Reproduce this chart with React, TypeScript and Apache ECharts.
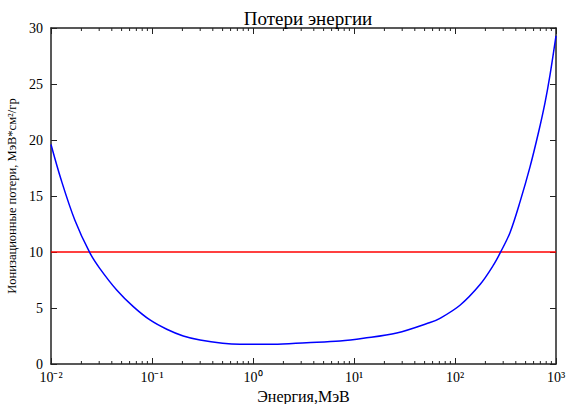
import React, { useEffect, useRef } from "react";
import * as echarts from "echarts";

const energy = [0.01, 0.01265, 0.0172, 0.0242, 0.0305, 0.0447, 0.0653, 0.0955, 0.14, 0.204, 0.299, 0.5, 0.743, 1.59, 3.39, 7.27, 12.4, 26.5, 56.6, 71, 112, 177, 239, 285, 351, 441, 553, 668, 777, 872, 1000];
const loss = [19.6, 16.4, 12.86, 9.94, 8.52, 6.61, 5.12, 3.93, 3.1, 2.5, 2.14, 1.85, 1.76, 1.76, 1.9, 2.05, 2.29, 2.76, 3.7, 4.08, 5.25, 7.1, 8.8, 10.05, 11.75, 14.5, 17.6, 20.6, 23.3, 25.8, 29.3];
const thresholdX = [0.01, 1000];
const thresholdY = [10, 10];
const decades = [-2, -1, 0, 1, 2];
const minorMultipliers = [2, 3, 4, 5, 6, 7, 8, 9];

const FONT = "Liberation Serif";
const sup: Record<string, string> = { "-": "\u207B", "0": "\u2070", "1": "\u00B9", "2": "\u00B2", "3": "\u00B3", "4": "\u2074", "5": "\u2075", "6": "\u2076", "7": "\u2077", "8": "\u2078", "9": "\u2079" };
const toSup = (n: number) => String(n).split("").map((c) => sup[c] || c).join("");

export default function App() {
  const ref = useRef<HTMLDivElement>(null);
  useEffect(() => {
    if (!ref.current) return;
    const chart = echarts.init(ref.current, null, { renderer: "svg" });
    const minorTicks: number[][] = [];
    decades.forEach((d) => minorMultipliers.forEach((m) => minorTicks.push([m * Math.pow(10, d)])));
    const axisLine = { show: true, onZero: false, lineStyle: { color: "#222", width: 1.5 } };
    const tickStyle = { color: "#222", width: 1 };
    chart.setOption({
      animation: false,
      backgroundColor: "#fff",
      title: {
        text: "Потери энергии",
        left: 303,
        textAlign: "center",
        top: 4,
        textStyle: { fontFamily: FONT, fontSize: 19, fontWeight: "normal", color: "#000" },
      },
      grid: { left: 51, right: 11, top: 28, bottom: 40, outerBoundsMode: "none", containLabel: false },
      xAxis: [
        {
          type: "log",
          logBase: 10,
          min: 0.01,
          max: 1000,
          position: "bottom",
          name: "Энергия,МэВ",
          nameLocation: "middle",
          nameGap: 24,
          nameTextStyle: { fontFamily: FONT, fontSize: 16, color: "#000" },
          axisLine,
          axisTick: { show: true, inside: true, length: 6, lineStyle: tickStyle },
          splitLine: { show: false },
          minorTick: { show: false },
          axisLabel: {
            fontFamily: FONT,
            fontSize: 14,
            color: "#000",
            margin: 6,
            formatter: (v: number) => "10" + toSup(Math.round(Math.log10(v))),
          },
        },
        {
          type: "log",
          logBase: 10,
          min: 0.01,
          max: 1000,
          position: "top",
          axisLine,
          axisTick: { show: true, inside: true, length: 6, lineStyle: tickStyle },
          splitLine: { show: false },
          axisLabel: { show: false },
        },
      ],
      yAxis: [
        {
          type: "value",
          min: 0,
          max: 30,
          interval: 5,
          position: "left",
          name: "Ионизационные потери, МэВ*см²/гр",
          nameLocation: "middle",
          nameGap: 31,
          nameTextStyle: { fontFamily: FONT, fontSize: 12.5, color: "#000" },
          axisLine,
          axisTick: { show: true, inside: true, length: 6, lineStyle: tickStyle },
          splitLine: { show: false },
          axisLabel: { fontFamily: FONT, fontSize: 14, color: "#000", margin: 8 },
        },
        {
          type: "value",
          min: 0,
          max: 30,
          interval: 5,
          position: "right",
          axisLine,
          axisTick: { show: true, inside: true, length: 6, lineStyle: tickStyle },
          splitLine: { show: false },
          axisLabel: { show: false },
        },
      ],
      series: [
        {
          type: "line",
          data: energy.map((e, i) => [e, loss[i]]),
          smooth: 0.33,
          showSymbol: false,
          lineStyle: { color: "#0000ff", width: 1.5 },
          z: 3,
        },
        {
          type: "line",
          data: thresholdX.map((x, i) => [x, thresholdY[i]]),
          showSymbol: false,
          lineStyle: { color: "#ff0000", width: 1.5 },
          z: 2,
        },
        {
          type: "custom",
          data: minorTicks,
          silent: true,
          z: 4,
          renderItem: (params: any, api: any) => {
            const v = api.value(0);
            const b = api.coord([v, 0]);
            const t = api.coord([v, 30]);
            return {
              type: "group",
              children: [
                { type: "line", shape: { x1: b[0], y1: b[1], x2: b[0], y2: b[1] - 3 }, style: { stroke: "#222", lineWidth: 1 } },
                { type: "line", shape: { x1: t[0], y1: t[1], x2: t[0], y2: t[1] + 3 }, style: { stroke: "#222", lineWidth: 1 } },
              ],
            };
          },
        },
      ],
    });
    return () => chart.dispose();
  }, []);
  return <div ref={ref} style={{ position: "fixed", left: 0, top: 0, width: 567, height: 404 }} />;
}
